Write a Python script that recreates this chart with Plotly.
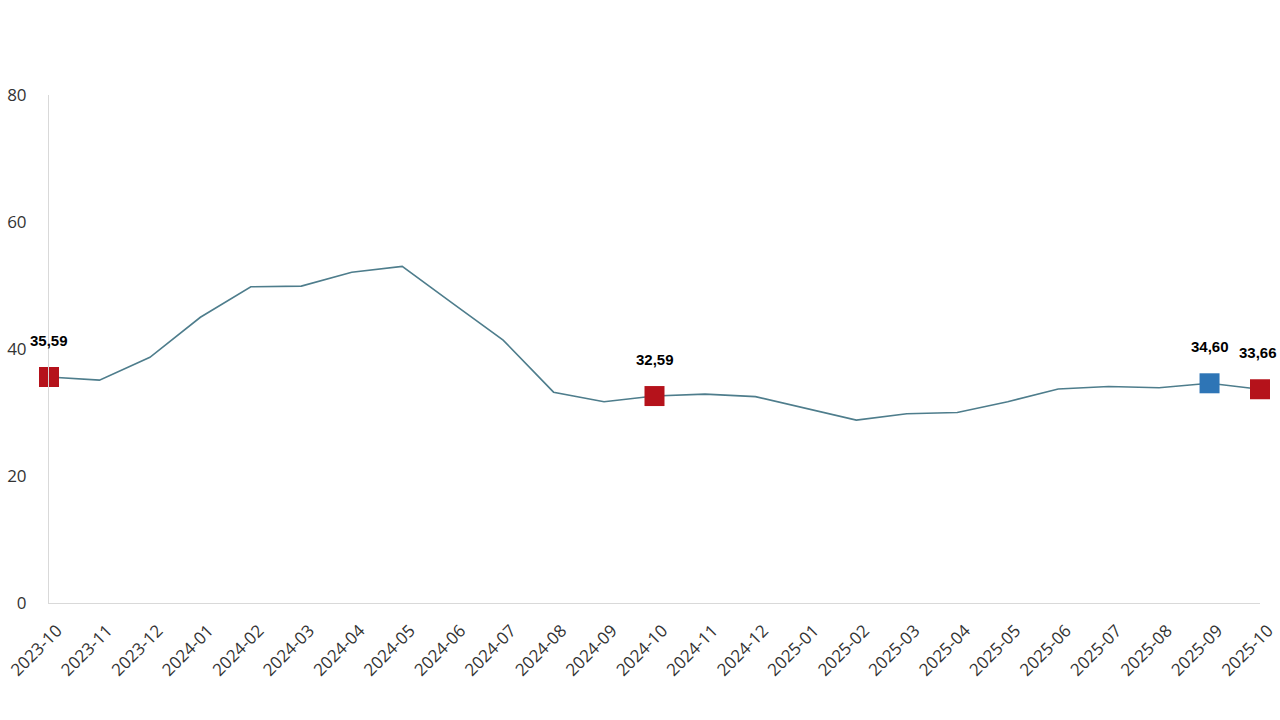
import plotly.graph_objects as go

months = ["2023-10", "2023-11", "2023-12", "2024-01", "2024-02", "2024-03", "2024-04",
          "2024-05", "2024-06", "2024-07", "2024-08", "2024-09", "2024-10", "2024-11",
          "2024-12", "2025-01", "2025-02", "2025-03", "2025-04", "2025-05", "2025-06",
          "2025-07", "2025-08", "2025-09", "2025-10"]
values = [35.59, 35.1, 38.7, 45.0, 49.8, 49.9, 52.1, 53.0, 47.2, 41.4, 33.2, 31.7,
          32.59, 32.9, 32.5, 30.6, 28.8, 29.8, 30.0, 31.7, 33.7, 34.1, 33.9, 34.60, 33.66]

red_months = ["2023-10", "2024-10", "2025-10"]
red_values = [35.59, 32.59, 33.66]
blue_months = ["2025-09"]
blue_values = [34.60]

yticks = [0, 20, 40, 60, 80]

fig = go.Figure()
fig.add_trace(go.Scatter(x=months, y=values, mode="lines",
                         line=dict(color="#4e7d8c", width=1.6),
                         hoverinfo="skip", cliponaxis=False))
fig.add_trace(go.Scatter(x=red_months, y=red_values, mode="markers",
                         marker=dict(symbol="square", size=20, color="#b5121b"),
                         cliponaxis=False))
fig.add_trace(go.Scatter(x=blue_months, y=blue_values, mode="markers",
                         marker=dict(symbol="square", size=20, color="#2e75b6"),
                         cliponaxis=False))

for xm, yv in list(zip(red_months, red_values)) + list(zip(blue_months, blue_values)):
    xs = -2 if xm == months[-1] else 0
    fig.add_annotation(x=xm, y=yv, text="<b>" + f"{yv:.2f}".replace(".", ",") + "</b>",
                       showarrow=False, yshift=37, xshift=xs,
                       font=dict(family="Liberation Sans, Arial", size=15, color="#000000"))

fig.update_layout(
    width=1280, height=720,
    margin=dict(l=49, r=20, t=95, b=117),
    paper_bgcolor="white", plot_bgcolor="white",
    showlegend=False,
    font=dict(family="Open Sans", size=15, color="#404040"),
)
fig.update_xaxes(type="category", categoryorder="array", categoryarray=months,
                 range=[0, len(months) - 1], tickangle=-45, automargin=False,
                 showline=True, linecolor="#d9d9d9", linewidth=1,
                 showgrid=False, zeroline=False, ticks="",
                 ticklabelstandoff=10, ticklabelshift=8,
                 tickfont=dict(family="Open Sans", size=17, color="#333333"))
fig.update_yaxes(range=[0, 80], tickvals=yticks, showgrid=False, zeroline=False,
                 showline=True, linecolor="#d9d9d9", linewidth=1, ticks="",
                 ticklabelstandoff=18, automargin=False,
                 tickfont=dict(family="Open Sans", size=17, color="#333333"))

fig.write_html("out.html", config={"displayModeBar": False},
               post_script="document.body.style.margin='0px';document.body.style.overflow='hidden';")
